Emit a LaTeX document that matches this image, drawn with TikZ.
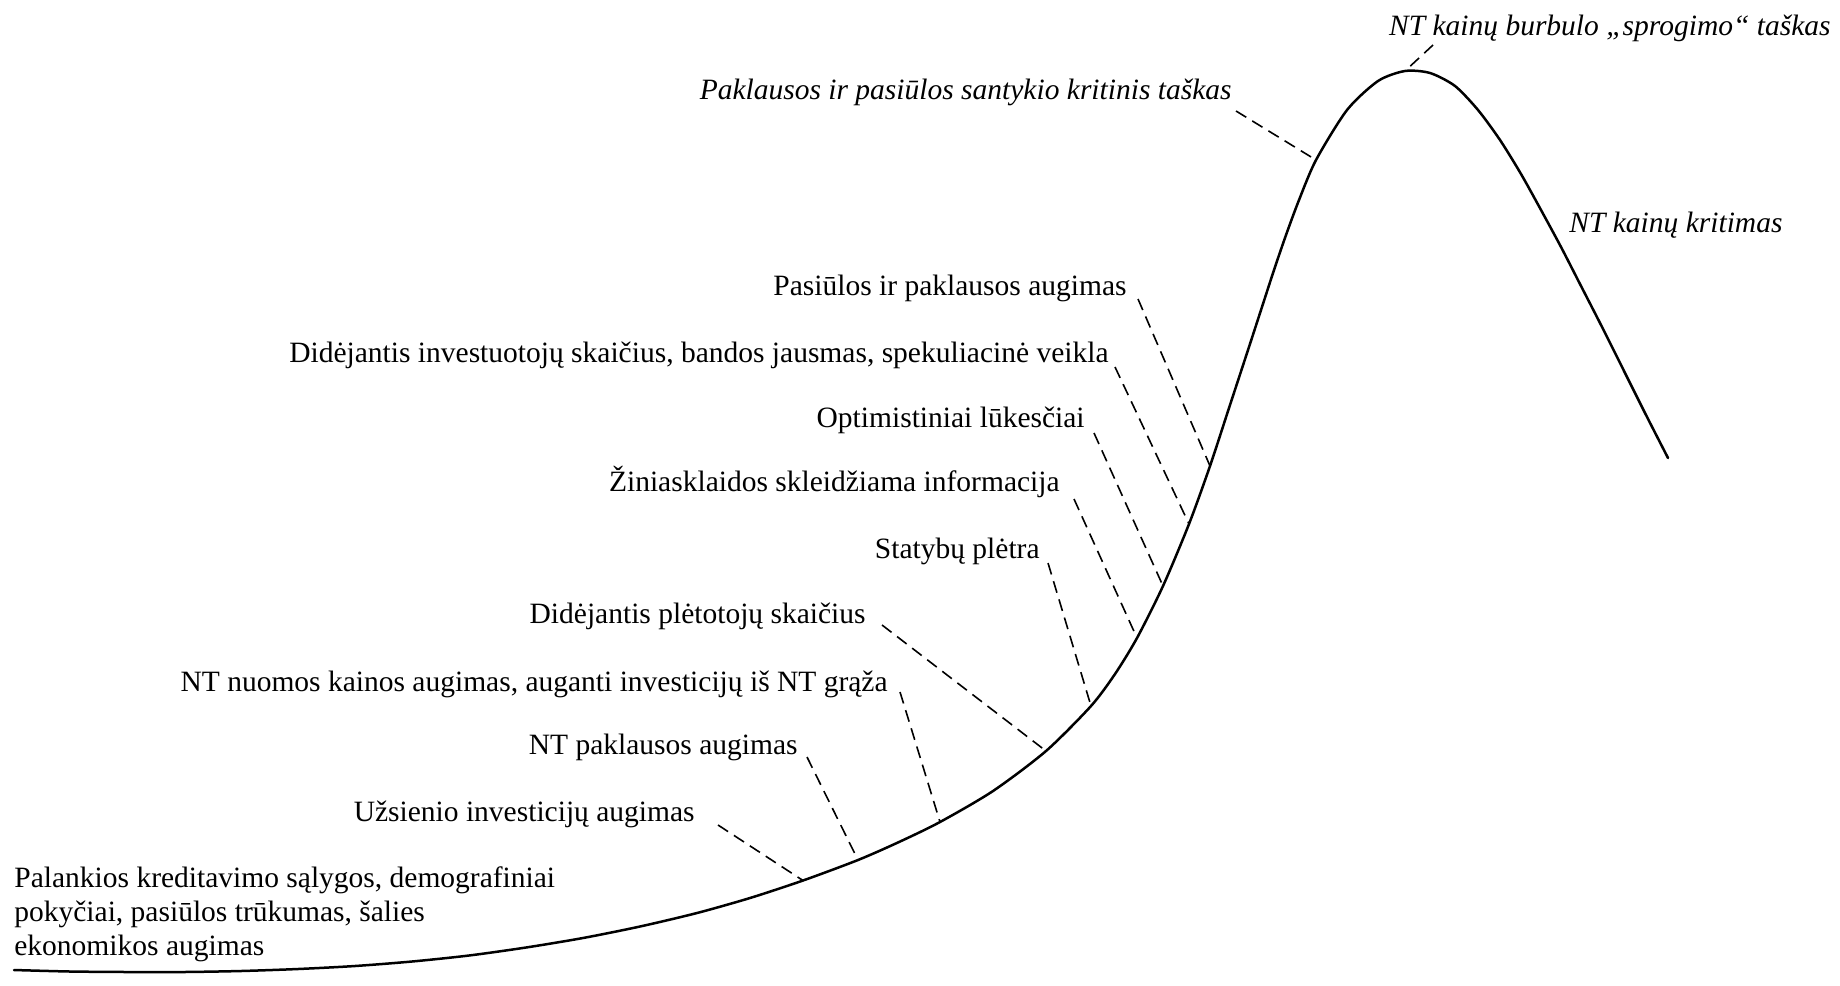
\documentclass[tikz,border=0pt]{standalone}
\usepackage{fontspec}
\setmainfont{Liberation Serif}
\usetikzlibrary{calc}
\begin{document}
\begin{tikzpicture}[x=0.5pt,y=-0.5pt,
  lbl/.style={inner sep=0pt, font=\fontsize{14.75}{17}\selectfont},
  ilbl/.style={inner sep=0pt, font=\fontsize{14.75}{17}\selectfont\itshape},
  curve/.style={line width=1.25pt, line join=round, line cap=round},
  leader/.style={line width=0.8pt, dash pattern=on 6pt off 3.5pt}]
\useasboundingbox (0,0) rectangle (1840,985);

% points on the price curve where the leaders end
\coordinate (c1) at (1405,71);
\coordinate (c2) at (1316,160);
\coordinate (c4) at (1210,466);
\coordinate (c5) at (1189,524);
\coordinate (c6) at (1163,586);
\coordinate (c7) at (1137,638);
\coordinate (c8) at (1091,706);
\coordinate (c9) at (1046,751);
\coordinate (c10) at (940,822);
\coordinate (c11) at (858,860);
\coordinate (c12) at (803,880.5);

% price curve
\draw[curve] plot[smooth, tension=0.45] coordinates {
  (14,970) (70,971.5) (127,972) (184,972) (241,971) (298,969)
  (355,966) (412,961.5) (469,955.5) (526,947.5) (583,938) (640,926.5)
  (697,913) (750,898) (c12) (c11) (899,842) (c10) (993,791) (c9) (c8)
  (1115,674) (c7) (c6) (c5) (c4) (1229,408) (1248,350) (1261,310)
  (1274,270) (1286,235) (1299,200) (c2) (1347,110) (1378,81) (c1)
  (1430,73) (1455,86) (1478,110) (1500,140) (1521,174) (1541,210)
  (1561,247) (1581,286) (1601,325) (1623,369) (1646,415) (1668,458)};

% labels
\node[ilbl, anchor=base east] (l1) at (1831,35) {NT kainų burbulo „sprogimo“ taškas};
\node[ilbl, anchor=base east] (l2) at (1232,99) {Paklausos ir pasiūlos santykio kritinis taškas};
\node[ilbl, anchor=base west] (l3) at (1569,232) {NT kainų kritimas};
\node[lbl, anchor=base east] (l4) at (1127,295) {Pasiūlos ir paklausos augimas};
\node[lbl, anchor=base east] (l5) at (1109,362) {Didėjantis investuotojų skaičius, bandos jausmas, spekuliacinė veikla};
\node[lbl, anchor=base east] (l6) at (1085,427) {Optimistiniai lūkesčiai};
\node[lbl, anchor=base east] (l7) at (1060,491) {Žiniasklaidos skleidžiama informacija};
\node[lbl, anchor=base east] (l8) at (1040,558) {Statybų plėtra};
\node[lbl, anchor=base east] (l9) at (866,623) {Didėjantis plėtotojų skaičius};
\node[lbl, anchor=base east] (l10) at (888,691) {NT nuomos kainos augimas, auganti investicijų iš NT grąža};
\node[lbl, anchor=base east] (l11) at (798,754) {NT paklausos augimas};
\node[lbl, anchor=base east] (l12) at (695,821) {Užsienio investicijų augimas};
\node[lbl, anchor=north west, align=left] (l13) at (14,866)
  {Palankios kreditavimo sąlygos, demografiniai\\pokyčiai, pasiūlos trūkumas, šalies\\ekonomikos augimas};

% leader starts next to each label
\coordinate (s1) at ($(c1)+(28,-26)$);
\coordinate (s2) at ($(l2.base east)+(4,12)$);
\coordinate (s4) at ($(l4.base east)+(11,4)$);
\coordinate (s5) at ($(l5.base east)+(6,5)$);
\coordinate (s6) at ($(l6.base east)+(9,6)$);
\coordinate (s7) at ($(l7.base east)+(14,8)$);
\coordinate (s8) at ($(l8.base east)+(8,5)$);
\coordinate (s9) at ($(l9.base east)+(16,2)$);
\coordinate (s10) at ($(l10.base east)+(12,1)$);
\coordinate (s11) at ($(l11.base east)+(9,3)$);
\coordinate (s12) at ($(l12.base east)+(23,4)$);

% dashed leaders
\foreach \i in {1,2,4,5,6,7,8,9,10,11,12}
  \draw[leader] (s\i) -- (c\i);
\end{tikzpicture}
\end{document}
